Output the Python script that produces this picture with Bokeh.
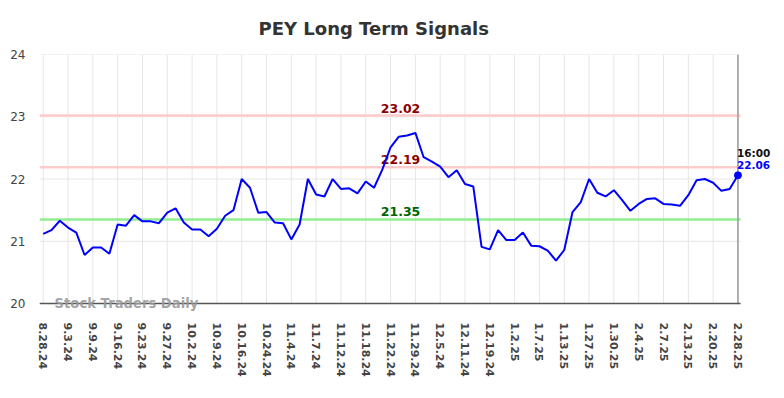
from bokeh.plotting import figure
from bokeh.models import Range1d, FixedTicker, ColumnDataSource
from bokeh.core.properties import value
from bokeh.embed import file_html
from bokeh.resources import INLINE

tick_labels = ["8.28.24", "9.3.24", "9.9.24", "9.16.24", "9.23.24", "9.27.24", "10.2.24",
               "10.9.24", "10.16.24", "10.24.24", "11.4.24", "11.7.24", "11.12.24", "11.18.24",
               "11.22.24", "11.29.24", "12.5.24", "12.11.24", "12.19.24", "1.2.25", "1.7.25",
               "1.13.25", "1.27.25", "1.30.25", "2.4.25", "2.7.25", "2.13.25", "2.20.25", "2.28.25"]
tick_step = 3

prices = [21.12, 21.18, 21.33, 21.22, 21.14, 20.78, 20.90, 20.90, 20.80, 21.27,
          21.25, 21.42, 21.32, 21.32, 21.29, 21.46, 21.53, 21.30, 21.19, 21.19,
          21.08, 21.20, 21.41, 21.50, 22.00, 21.86, 21.46, 21.47, 21.30, 21.29,
          21.03, 21.27, 22.00, 21.75, 21.72, 22.00, 21.84, 21.85, 21.77, 21.96,
          21.86, 22.15, 22.51, 22.68, 22.70, 22.74, 22.35, 22.28, 22.20, 22.03,
          22.14, 21.92, 21.88, 20.91, 20.87, 21.18, 21.02, 21.02, 21.14, 20.93,
          20.92, 20.85, 20.69, 20.86, 21.47, 21.63, 22.00, 21.78, 21.72, 21.82,
          21.66, 21.49, 21.60, 21.68, 21.69, 21.60, 21.59, 21.57, 21.74, 21.98,
          22.00, 21.94, 21.81, 21.84, 22.06]

resistance_levels = [23.02, 22.19]
support_levels = [21.35]
last_time = "16:00"
y_ticks = [20, 21, 22, 23, 24]

FONT = "DejaVu Sans"
n = len(prices)
xs = list(range(n))
tick_pos = list(range(0, n, tick_step))

# visible chart area (lines stop here); the frame itself is a little larger so
# that the end-of-series labels and the watermark are not clipped
x_lo, x_hi = -0.45, n - 1 + 0.31
y_lo, y_hi = y_ticks[0], y_ticks[-1]

p = figure(width=784, height=398, output_backend="svg", toolbar_location=None,
           x_range=Range1d(x_lo, 89.63), y_range=Range1d(19.856, y_hi),
           min_border_left=39, min_border_right=0, min_border_top=53, min_border_bottom=86,
           title="PEY Long Term Signals")
p.title.align = "left"
p.title.offset = 219
p.title.text_font = FONT
p.title.text_font_size = "18px"
p.title.text_font_style = "bold"
p.title.text_color = "#333333"
p.title.standoff = 31
p.outline_line_color = None
p.background_fill_color = "white"
p.border_fill_color = "white"
p.xgrid.visible = False
p.ygrid.visible = False

# x axis (labels from the axis; its baseline is drawn at y = 20 below)
p.xaxis.ticker = FixedTicker(ticks=tick_pos)
p.xaxis.major_label_overrides = {t: lab for t, lab in zip(tick_pos, tick_labels)}
p.xaxis.major_label_orientation = "vertical"
p.xaxis.major_label_text_font = FONT
p.xaxis.major_label_text_font_size = "11px"
p.xaxis.major_label_text_font_style = "bold"
p.xaxis.major_label_text_color = "#444444"
p.xaxis.major_tick_out = 0
p.xaxis.major_tick_in = 0
p.xaxis.major_label_standoff = 10
p.xaxis.axis_line_color = None
p.xaxis.major_tick_line_color = None
p.xaxis.minor_tick_line_color = None

# y axis
p.yaxis.ticker = FixedTicker(ticks=y_ticks)
p.yaxis.major_label_text_font = FONT
p.yaxis.major_label_text_font_size = "12px"
p.yaxis.major_label_text_color = "#444444"
p.yaxis.major_tick_out = 0
p.yaxis.major_tick_in = 0
p.yaxis.major_label_standoff = 14
p.yaxis.axis_line_color = None
p.yaxis.major_tick_line_color = None
p.yaxis.minor_tick_line_color = None

# grid lines limited to the chart area
p.segment(x0=tick_pos, x1=tick_pos, y0=[y_lo] * len(tick_pos), y1=[y_hi] * len(tick_pos),
          line_color="#e6e6e6", line_width=1)
p.segment(x0=[x_lo] * len(y_ticks), x1=[x_hi] * len(y_ticks), y0=y_ticks, y1=y_ticks,
          line_color="#e6e6e6", line_width=1)

# signal levels
p.segment(x0=[x_lo] * len(resistance_levels), x1=[x_hi] * len(resistance_levels),
          y0=resistance_levels, y1=resistance_levels, line_color="#ffcccc", line_width=2.5)
p.segment(x0=[x_lo] * len(support_levels), x1=[x_hi] * len(support_levels),
          y0=support_levels, y1=support_levels, line_color="#90ee90", line_width=2.5)

# right edge marker at last bar
p.segment(x0=[xs[-1]], x1=[xs[-1]], y0=[y_lo], y1=[y_hi], line_color="#999999", line_width=1.5)

mid_x = 43.2
p.text(x=[mid_x] * len(resistance_levels), y=resistance_levels,
       text=[f"{v:.2f}" for v in resistance_levels], text_align="center",
       text_baseline="bottom", y_offset=-3, text_font=value(FONT), text_font_size="12.5px",
       text_font_style="bold", text_color="#8b0000")
p.text(x=[mid_x] * len(support_levels), y=support_levels,
       text=[f"{v:.2f}" for v in support_levels], text_align="center",
       text_baseline="bottom", y_offset=-3, text_font=value(FONT), text_font_size="12.5px",
       text_font_style="bold", text_color="#006400")

src = ColumnDataSource(dict(x=xs, y=prices))
p.line("x", "y", source=src, line_color="#0000ff", line_width=2)

# x axis baseline at y = 20
p.segment(x0=[x_lo], x1=[x_hi], y0=[y_lo], y1=[y_lo], line_color="#555555", line_width=1.5)

p.text(x=[1.37], y=[y_lo], text=["Stock Traders Daily"], text_baseline="middle",
       text_font=value(FONT), text_font_size="13.2px", text_font_style="bold",
       text_color="#999999", text_alpha=0.9)

p.scatter(x=[xs[-1]], y=[prices[-1]], size=7, fill_color="#0000ff", line_color="#0000ff")
p.text(x=[xs[-1]], y=[prices[-1]], text=[f"{prices[-1]:.2f}"], text_align="left",
       text_baseline="alphabetic", y_offset=-10, x_offset=-1, text_font=value(FONT),
       text_font_size="10.5px", text_font_style="bold", text_color="#0000ff")
p.text(x=[xs[-1]], y=[prices[-1]], text=[last_time], text_align="left",
       text_baseline="alphabetic", y_offset=-22, x_offset=-1, text_font=value(FONT),
       text_font_size="10.5px", text_font_style="bold", text_color="#111111")

open("out.html", "w").write(file_html(p, INLINE))
